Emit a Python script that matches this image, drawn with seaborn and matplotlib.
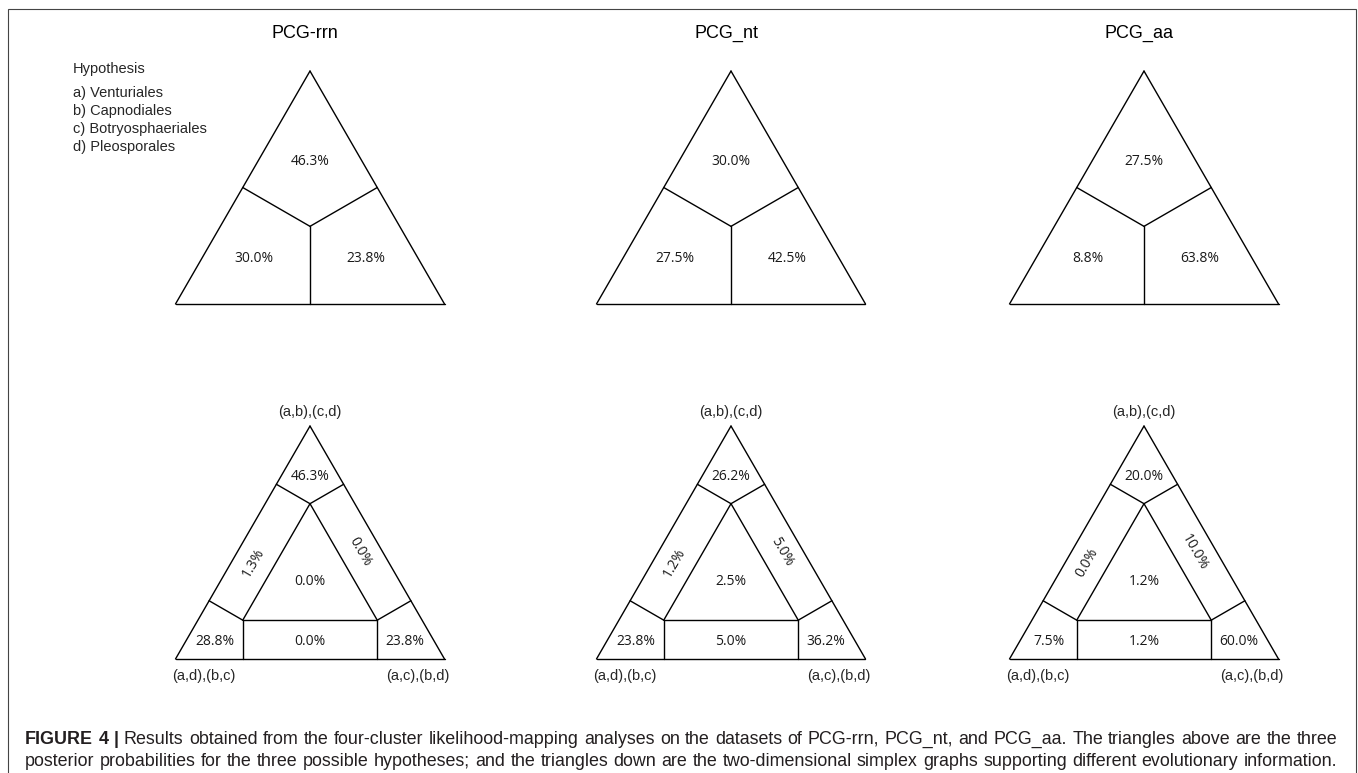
import numpy as np
import pandas as pd
import matplotlib
matplotlib.use("Agg")
import matplotlib.pyplot as plt
import seaborn as sns
from matplotlib import font_manager as fm
from matplotlib.patches import Rectangle

# ---------------- data ----------------
datasets = ["PCG-rrn", "PCG_nt", "PCG_aa"]
hypotheses = ["a) Venturiales", "b) Capnodiales", "c) Botryosphaeriales", "d) Pleosporales"]

# top row: posterior probabilities of the three hypotheses
top_upper = [46.3, 30.0, 27.5]
top_left = [30.0, 27.5, 8.8]
top_right = [23.8, 42.5, 63.8]

# bottom row: 7-region likelihood-mapping simplex
corner_top = [46.3, 26.2, 20.0]
corner_left = [28.8, 23.8, 7.5]
corner_right = [23.8, 36.2, 60.0]
side_left = [1.3, 1.2, 0.0]
side_right = [0.0, 5.0, 10.0]
side_bottom = [0.0, 5.0, 1.2]
centre = [0.0, 2.5, 1.2]

vertex_labels = ["(a,b),(c,d)", "(a,d),(b,c)", "(a,c),(b,d)"]

caption_bold = "FIGURE 4 |"
caption_line1 = ("Results obtained from the four-cluster likelihood-mapping analyses on the "
                 "datasets of PCG-rrn, PCG_nt, and PCG_aa. The triangles above are the three")
caption_line2 = ("posterior probabilities for the three possible hypotheses; and the triangles "
                 "down are the two-dimensional simplex graphs supporting different evolutionary information.")

# ---------------- style ----------------
sns.set_theme(style="white")
plt.rcParams["font.family"] = ["Liberation Sans", "DejaVu Sans"]

def has_font(name):
    try:
        fm.findfont(fm.FontProperties(family=name), fallback_to_default=False)
        return True
    except Exception:
        return False

PCT_FONT = ["Open Sans", "DejaVu Sans"] if has_font("Open Sans") else ["DejaVu Sans"]
CAP_FONT = "Liberation Sans Narrow" if has_font("Liberation Sans Narrow") else "Liberation Sans"

W, H = 1358, 773
fig = plt.figure(figsize=(W / 100, H / 100), dpi=100)
fig.patch.set_facecolor("white")

def fx(x):
    return x / W

def fy(y):
    return 1 - y / H

# ---------------- geometry helpers (unit simplex) ----------------
h = np.sqrt(3) / 2
A = np.array([0.0, 0.0])
B = np.array([1.0, 0.0])
C = np.array([0.5, h])
G = (A + B + C) / 3

def proj(X, P, Q):
    u = (Q - P) / np.linalg.norm(Q - P)
    return P + np.dot(X - P, u) * u

def centroid(pts):
    pts = np.asarray(pts)
    x, y = pts[:, 0], pts[:, 1]
    x1, y1 = np.roll(x, -1), np.roll(y, -1)
    cr = x * y1 - x1 * y
    a = cr.sum() / 2
    return np.array([((x + x1) * cr).sum() / (6 * a), ((y + y1) * cr).sum() / (6 * a)])

def seg(ax, p, q):
    df = pd.DataFrame({"x": [p[0], q[0]], "y": [p[1], q[1]]})
    sns.lineplot(data=df, x="x", y="y", sort=False, estimator=None, ax=ax,
                 color="black", lw=1.0, clip_on=False)

def tri_axes(cx, base_y, side=269):
    ax = fig.add_axes([fx(cx - side / 2), fy(base_y), side / W, side * h / H])
    ax.set_xlim(0, 1)
    ax.set_ylim(0, h)
    ax.axis("off")
    return ax

def pct(ax, p, v, rot=0):
    ax.text(p[0], p[1], f"{v:.1f}%", ha="center", va="center", rotation=rot,
            rotation_mode="anchor", fontsize=10, family=PCT_FONT, color="#1a1a1a")

centres_x = [310, 731, 1144]
TOP_BASE, BOT_BASE = 304, 659

for i, name in enumerate(datasets):
    cx = centres_x[i]
    # -------- top triangle --------
    ax = tri_axes(cx, TOP_BASE)
    for p, q in [(A, B), (B, C), (C, A)]:
        seg(ax, p, q)
    mAB, mBC, mCA = (A + B) / 2, (B + C) / 2, (C + A) / 2
    for m in (mAB, mBC, mCA):
        seg(ax, G, m)
    pct(ax, centroid([C, mCA, G, mBC]), top_upper[i])
    pct(ax, centroid([A, mAB, G, mCA]), top_left[i])
    pct(ax, centroid([B, mBC, G, mAB]), top_right[i])
    fig.text(fx(cx - 5), fy(33), name, ha="center", va="center", fontsize=13,
             color="black")

    # -------- bottom triangle --------
    ax = tri_axes(cx, BOT_BASE)
    for p, q in [(A, B), (B, C), (C, A)]:
        seg(ax, p, q)
    Ai, Bi, Ci = G + 0.5 * (A - G), G + 0.5 * (B - G), G + 0.5 * (C - G)
    for p, q in [(Ai, Bi), (Bi, Ci), (Ci, Ai)]:
        seg(ax, p, q)
    fA_AB, fA_AC = proj(Ai, A, B), proj(Ai, A, C)
    fB_AB, fB_BC = proj(Bi, A, B), proj(Bi, B, C)
    fC_AC, fC_BC = proj(Ci, A, C), proj(Ci, B, C)
    for p, q in [(Ai, fA_AB), (Ai, fA_AC), (Bi, fB_AB), (Bi, fB_BC), (Ci, fC_AC), (Ci, fC_BC)]:
        seg(ax, p, q)
    down = np.array([0, -0.02])
    pct(ax, centroid([C, fC_AC, Ci, fC_BC]) + down, corner_top[i])
    pct(ax, centroid([A, fA_AB, Ai, fA_AC]) + down, corner_left[i])
    pct(ax, centroid([B, fB_BC, Bi, fB_AB]) + down, corner_right[i])
    along = (A - C) / np.linalg.norm(A - C) * 0.045
    pct(ax, centroid([fA_AC, Ai, Ci, fC_AC]) + along, side_left[i], rot=60)
    pct(ax, centroid([fC_BC, Ci, Bi, fB_BC]), side_right[i], rot=-60)
    pct(ax, centroid([Ai, fA_AB, fB_AB, Bi]) + np.array([0, -0.008]), side_bottom[i])
    pct(ax, centroid([Ai, Bi, Ci]), centre[i])

    ax.text(0.5, h + 14 / 269, vertex_labels[0], ha="center", va="center", fontsize=10.5)
    ax.text(-3 / 269, -17 / 269, vertex_labels[1], ha="left", va="center", fontsize=10.5)
    ax.text(1 + 5 / 269, -17 / 269, vertex_labels[2], ha="right", va="center", fontsize=10.5)

# -------- hypothesis legend --------
fig.text(fx(73), fy(69), "Hypothesis", ha="left", va="center", fontsize=10.5)
for k, hyp in enumerate(hypotheses):
    fig.text(fx(73), fy(93 + 18 * k), hyp, ha="left", va="center", fontsize=10.5)

# -------- border --------
fig.add_artist(Rectangle((fx(8), -0.05), fx(1356) - fx(8), fy(9) + 0.05,
                         transform=fig.transFigure, fill=False, ec="#444444", lw=0.8))

# -------- caption (justified) --------
CAP_COL = "#231f20"
X0, X1 = 25, 1337
renderer = fig.canvas.get_renderer()
probe = fig.text(0, 0, caption_line2, fontsize=10, family=CAP_FONT)
natural = probe.get_window_extent(renderer).width
probe.remove()
cap_size = 10 * (X1 - X0) / natural * 0.995

def justified(words, y_base):
    texts = [fig.text(0, 0, w, fontsize=cap_size, family=CAP_FONT, weight=wt,
                      color=CAP_COL, ha="left", va="baseline") for w, wt in words]
    widths = [t.get_window_extent(renderer).width for t in texts]
    gap = (X1 - X0 - sum(widths)) / (len(texts) - 1)
    x = X0
    for t, w in zip(texts, widths):
        t.set_position((fx(x), fy(y_base)))
        x += w + gap

words1 = [(w, "bold") for w in caption_bold.split()] + [(w, "normal") for w in caption_line1.split()]
words2 = [(w, "normal") for w in caption_line2.split()]
justified(words1, 744)
justified(words2, 766)

fig.savefig("out.png", dpi=100, facecolor="white")
